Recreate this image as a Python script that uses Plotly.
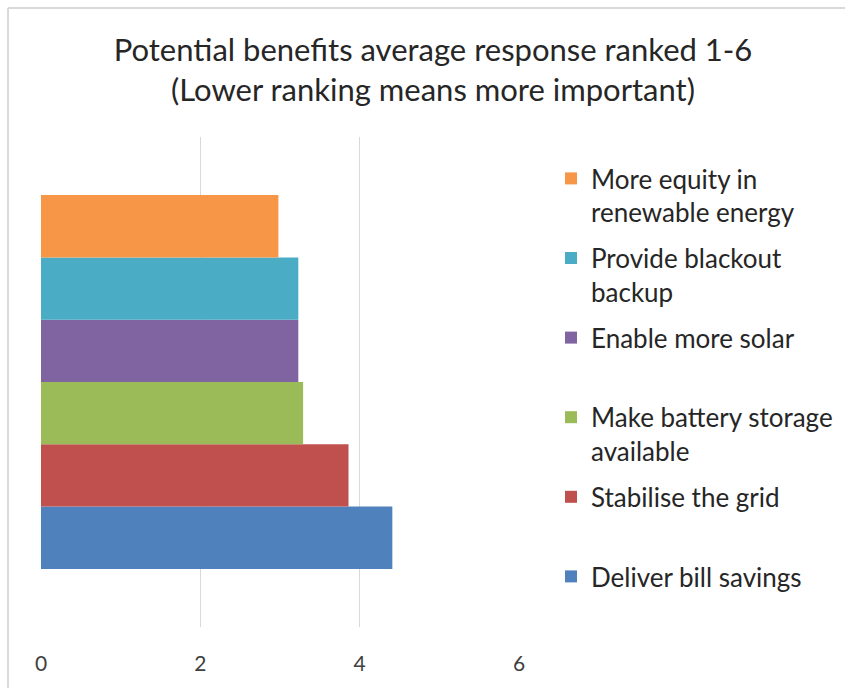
import plotly.graph_objects as go

# Average ranking (1 = most important) for each potential benefit
benefits = [
    "Deliver bill savings",
    "Stabilise the grid",
    "Make battery storage<br>available",
    "Enable more solar",
    "Provide blackout<br>backup",
    "More equity in<br>renewable energy",
]
avg_rank = [4.41, 3.86, 3.29, 3.23, 3.23, 2.98]
colors = ["#4F81BD", "#C0504D", "#9BBB59", "#8064A2", "#4BACC6", "#F79646"]
category = ["Benefit"]

x_ticks = [0, 2, 4, 6]

FONT = "Lato, 'Open Sans', sans-serif"
TEXT = "#404040"

fig = go.Figure()
n = len(benefits)
for i, (name, val, col) in enumerate(zip(benefits, avg_rank, colors)):
    # pad single-line entries so every legend row has the same height
    label = name if "<br>" in name else name + "<br>&nbsp;"
    fig.add_trace(go.Bar(
        y=category, x=[val], name=label, orientation="h",
        marker=dict(color=col, line=dict(width=0)),
        legendgroup=f"g{i}", legendrank=n - i, hoverinfo="x+name",
    ))

fig.update_layout(
    width=845, height=688,
    paper_bgcolor="white", plot_bgcolor="white",
    margin=dict(l=41, r=326, t=137, b=61, autoexpand=False),
    barmode="group", bargap=0.237, bargroupgap=0,
    title=dict(
        text="Potential benefits average response ranked 1-6<br>(Lower ranking means more important)",
        x=433 / 845, xanchor="center", xref="container",
        y=1 - 61 / 688, yanchor="top", yref="container",
        font=dict(family=FONT, size=31, color="#262626"),
    ),
    xaxis=dict(
        range=[0, 6], tickvals=x_ticks, showgrid=True, gridcolor="#D9D9D9",
        gridwidth=1, zeroline=False, showline=False, ticks="",
        tickfont=dict(family=FONT, size=21, color=TEXT), ticklabelstandoff=22,
    ),
    yaxis=dict(showticklabels=False, showgrid=False, zeroline=False,
               showline=False, ticks=""),
    legend=dict(
        xref="container", yref="container",
        x=551 / 845, xanchor="left", y=1 - 155 / 688, yanchor="top",
        traceorder="grouped", tracegroupgap=9, valign="top",
        font=dict(family=FONT, size=26, color="#262626"),
        bgcolor="rgba(0,0,0,0)", itemwidth=30, maxheight=620,
    ),
    shapes=[
        dict(type="line", xref="paper", yref="paper",
             x0=(8 - 41) / 478, x1=(845 - 41) / 478,
             y0=(688 - 61 - 8) / 490, y1=(688 - 61 - 8) / 490,
             line=dict(color="#D9D9D9", width=2)),
        dict(type="line", xref="paper", yref="paper",
             x0=(8 - 41) / 478, x1=(8 - 41) / 478,
             y0=-61 / 490, y1=(688 - 61 - 8) / 490,
             line=dict(color="#D9D9D9", width=2)),
    ],
)

fig.write_html("out.html")
